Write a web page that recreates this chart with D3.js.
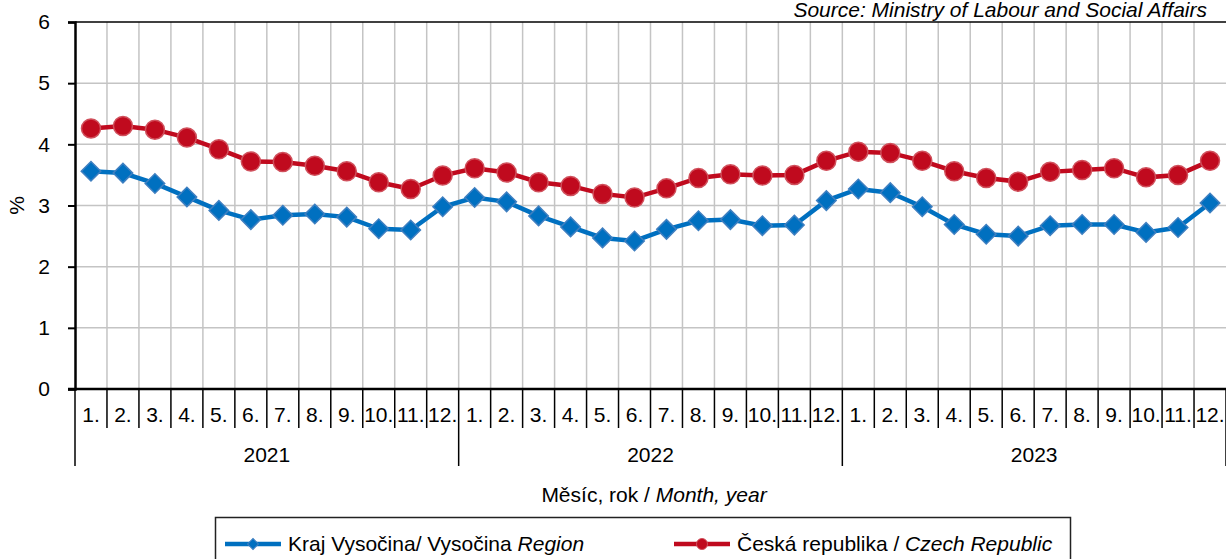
<!DOCTYPE html>
<html>
<head>
<meta charset="utf-8">
<script src="https://cdn.jsdelivr.net/npm/d3@7"></script>
<style>
  body { margin: 0; background: #fff; }
  svg { display: block; font-family: "Liberation Sans", Arial, sans-serif; }
</style>
</head>
<body>
<div class="canvas"></div>
<script>
// data
const years = ['2021', '2022', '2023'];
const monthLabels = ['1.', '2.', '3.', '4.', '5.', '6.', '7.', '8.', '9.', '10.', '11.', '12.'];
const yTicks = [0, 1, 2, 3, 4, 5, 6];

const vysocina = [
  3.56, 3.53, 3.36, 3.14, 2.92, 2.77, 2.84, 2.86, 2.81, 2.62, 2.60, 2.98,
  3.13, 3.06, 2.83, 2.65, 2.47, 2.42, 2.61, 2.75, 2.77, 2.67, 2.68, 3.08,
  3.27, 3.21, 2.98, 2.69, 2.53, 2.50, 2.67, 2.69, 2.69, 2.56, 2.64, 3.04
];
const cr = [
  4.26, 4.30, 4.24, 4.11, 3.92, 3.72, 3.71, 3.65, 3.56, 3.38, 3.27, 3.49,
  3.61, 3.54, 3.38, 3.32, 3.19, 3.13, 3.28, 3.45, 3.51, 3.49, 3.50, 3.73,
  3.88, 3.86, 3.73, 3.56, 3.45, 3.39, 3.55, 3.58, 3.61, 3.46, 3.50, 3.73
];

const months = [];
years.forEach(y => monthLabels.forEach(m => months.push({ year: y, month: m })));

const svg = d3.select('.canvas')
  .append('svg')
  .attr('width', 1226)
  .attr('height', 559);

// plot area
const pLeft = 75, pRight = 1226, pTop = 22, pBottom = 389;
const fs = 21;

const x = d3.scaleBand()
  .domain(d3.range(months.length))
  .range([pLeft, pRight]);

const y = d3.scaleLinear()
  .domain([0, 6])
  .range([pBottom, pTop]);

const blue = '#0070c0', red = '#c00a1e';

// grid
svg.append('g').selectAll('line')
  .data(yTicks.slice(1, -1))
  .enter().append('line')
  .attr('x1', pLeft).attr('x2', pRight)
  .attr('y1', d => y(d)).attr('y2', d => y(d))
  .attr('stroke', '#c4c4c4').attr('stroke-width', 1.5);

svg.append('g').selectAll('line')
  .data(d3.range(1, months.length))
  .enter().append('line')
  .attr('x1', d => x(d)).attr('x2', d => x(d))
  .attr('y1', pTop).attr('y2', pBottom)
  .attr('stroke', '#c4c4c4').attr('stroke-width', 1.5);

// top border
svg.append('line')
  .attr('x1', pLeft).attr('x2', pRight)
  .attr('y1', pTop).attr('y2', pTop)
  .attr('stroke', '#000').attr('stroke-width', 1.5);

// y axis
const yAxis = d3.axisLeft(y).tickValues(yTicks).tickFormat(d3.format('d')).tickSize(7).tickPadding(18);
const yg = svg.append('g')
  .attr('transform', `translate(${pLeft},0)`)
  .call(yAxis);
yg.attr('font-size', null).attr('font-family', null);
yg.select('.domain').attr('stroke-width', 2.5);
yg.selectAll('.tick line').attr('stroke-width', 2);
yg.selectAll('text').attr('font-size', fs).attr('fill', '#000');

svg.append('text')
  .attr('transform', `translate(24,${y(3)}) rotate(-90)`)
  .attr('text-anchor', 'middle')
  .attr('font-size', fs)
  .text('%');

// x axis: month separators and labels
svg.append('g').selectAll('line')
  .data(d3.range(0, months.length + 1))
  .enter().append('line')
  .attr('x1', d => d < months.length ? x(d) : pRight)
  .attr('x2', d => d < months.length ? x(d) : pRight)
  .attr('y1', pBottom)
  .attr('y2', d => d % 12 === 0 ? 466 : 428)
  .attr('stroke', '#000').attr('stroke-width', 1.5);

svg.append('line')
  .attr('x1', pLeft - 7).attr('x2', pRight)
  .attr('y1', pBottom).attr('y2', pBottom)
  .attr('stroke', '#000').attr('stroke-width', 2.5);

svg.append('g').selectAll('text')
  .data(months)
  .enter().append('text')
  .attr('x', (d, i) => x(i) + x.bandwidth() / 2)
  .attr('y', 422)
  .attr('text-anchor', 'middle')
  .attr('font-size', fs)
  .text(d => d.month);

svg.append('g').selectAll('text')
  .data(years)
  .enter().append('text')
  .attr('x', (d, i) => x(i * 12) + x.bandwidth() * 6)
  .attr('y', 462)
  .attr('text-anchor', 'middle')
  .attr('font-size', fs)
  .text(d => d);

const title = svg.append('text')
  .attr('x', 654).attr('y', 502)
  .attr('text-anchor', 'middle')
  .attr('font-size', fs);
title.append('tspan').text('Měsíc, rok / ');
title.append('tspan').attr('font-style', 'italic').text('Month, year');

svg.append('text')
  .attr('x', 1207).attr('y', 17)
  .attr('text-anchor', 'end')
  .attr('font-size', fs)
  .attr('font-style', 'italic')
  .text('Source: Ministry of Labour and Social Affairs');

// lines
const cx = i => x(i) + x.bandwidth() / 2;
const line = d3.line().x((d, i) => cx(i)).y(d => y(d));

svg.append('path').datum(vysocina)
  .attr('d', line).attr('fill', 'none')
  .attr('stroke', blue).attr('stroke-width', 4.5);

svg.append('path').datum(cr)
  .attr('d', line).attr('fill', 'none')
  .attr('stroke', red).attr('stroke-width', 4.5);

const diamond = d3.symbol().type(d3.symbolSquare).size(190);

svg.append('g').selectAll('path')
  .data(vysocina)
  .enter().append('path')
  .attr('d', diamond)
  .attr('transform', (d, i) => `translate(${cx(i)},${y(d)}) rotate(45)`)
  .attr('fill', blue).attr('stroke', '#3f7fc0').attr('stroke-width', 1.5);

svg.append('g').selectAll('circle')
  .data(cr)
  .enter().append('circle')
  .attr('cx', (d, i) => cx(i)).attr('cy', d => y(d))
  .attr('r', 9.5)
  .attr('fill', red).attr('stroke', '#d0505c').attr('stroke-width', 1.5);

// legend
svg.append('rect')
  .attr('x', 215.5).attr('y', 517.5)
  .attr('width', 855).attr('height', 50)
  .attr('fill', '#fff').attr('stroke', '#222').attr('stroke-width', 1.5);

const legend = [
  { color: blue, shape: 'diamond', x: 225, parts: [['Kraj Vysočina', false], ['/ ', false], ['Vysočina ', false], ['Region', true]] },
  { color: red, shape: 'circle', x: 674, parts: [['Česká republika / ', false], ['Czech Republic', true]] }
];

legend.forEach(l => {
  const g = svg.append('g');
  g.append('line')
    .attr('x1', l.x).attr('x2', l.x + 56)
    .attr('y1', 544).attr('y2', 544)
    .attr('stroke', l.color).attr('stroke-width', 4.5);
  if (l.shape === 'diamond') {
    g.append('path')
      .attr('d', d3.symbol().type(d3.symbolSquare).size(60))
      .attr('transform', `translate(${l.x + 28},544) rotate(45)`)
      .attr('fill', l.color).attr('stroke', '#3f7fc0');
  } else {
    g.append('circle')
      .attr('cx', l.x + 28).attr('cy', 544).attr('r', 5.5)
      .attr('fill', l.color).attr('stroke', '#d0505c');
  }
  const t = g.append('text')
    .attr('x', l.x + 63).attr('y', 551)
    .attr('font-size', fs);
  l.parts.forEach(p => {
    t.append('tspan').attr('font-style', p[1] ? 'italic' : null).text(p[0]);
  });
});
</script>
</body>
</html>
